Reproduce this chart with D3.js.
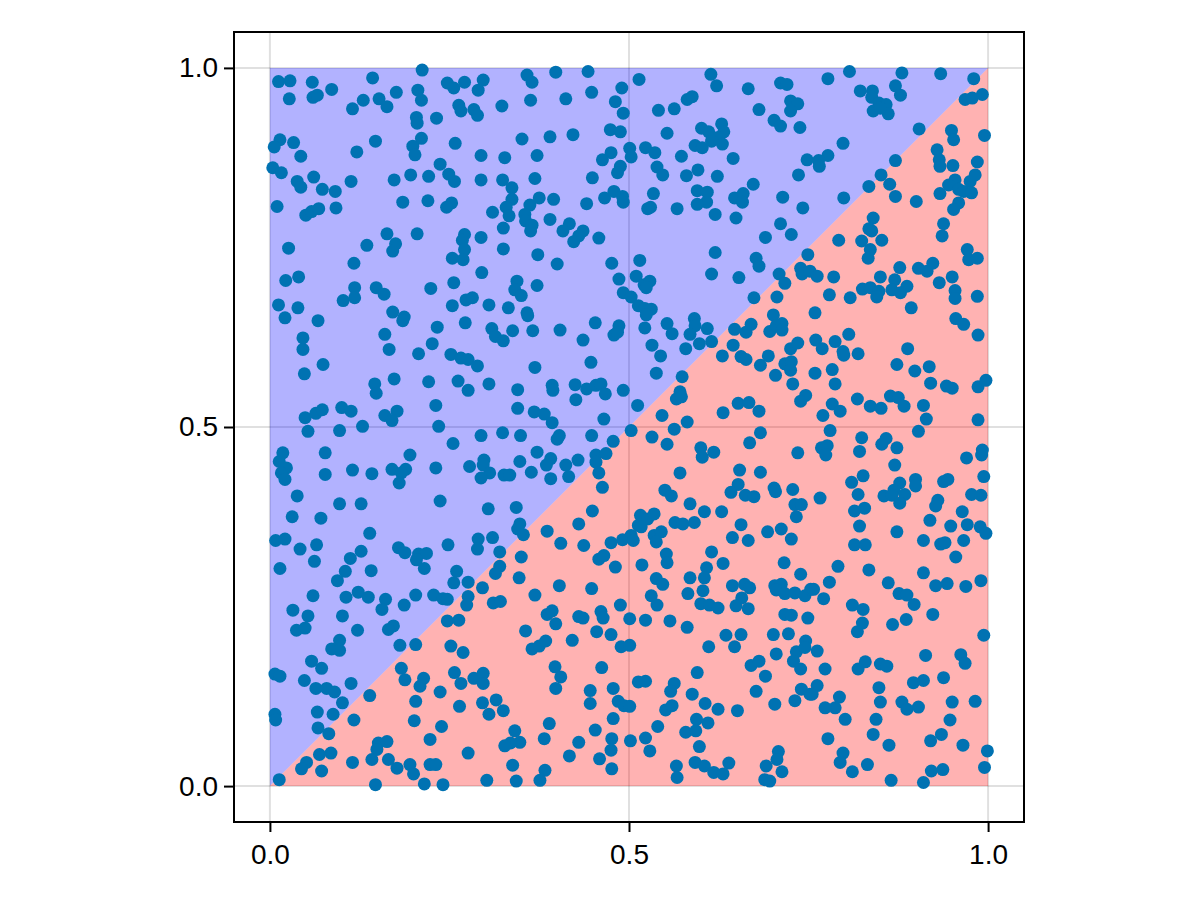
<!DOCTYPE html>
<html><head><meta charset="utf-8">
<script src="https://cdn.jsdelivr.net/npm/d3@7"></script>
<style>body{margin:0;background:#fff}svg{display:block}</style>
</head><body>
<svg id="chart" width="1200" height="900"></svg>
<script>
const xTicks = [0, 0.5, 1];
const yTicks = [0, 0.5, 1];
const upperRegion = [[0,0],[0,1],[1,1]];
const lowerRegion = [[0,0],[1,0],[1,1]];
const points = [
[0.012,0.981],[0.028,0.982],[0.027,0.957],[0.059,0.980],[0.060,0.959],[0.066,0.962],[0.086,0.970],[0.143,0.986],[0.212,0.997],[0.115,0.943],[0.130,0.955],[0.152,0.957],[0.163,0.946],[0.176,0.966],[0.206,0.969],[0.211,0.955],[0.204,0.931],[0.205,0.923],[0.232,0.930],[0.014,0.900],[0.006,0.890],[0.033,0.896],[0.043,0.877],[0.121,0.883],[0.147,0.898],[0.211,0.902],[0.199,0.891],[0.202,0.879],[0.237,0.866],[0.004,0.861],[0.016,0.854],[0.038,0.842],[0.043,0.834],[0.061,0.848],[0.073,0.831],[0.091,0.828],[0.113,0.842],[0.173,0.844],[0.196,0.851],[0.221,0.849],[0.010,0.807],[0.050,0.795],[0.058,0.800],[0.068,0.804],[0.092,0.805],[0.185,0.813],[0.220,0.815],[0.026,0.749],[0.135,0.753],[0.163,0.769],[0.175,0.755],[0.171,0.745],[0.205,0.769],[0.117,0.728],[0.022,0.704],[0.040,0.709],[0.118,0.694],[0.148,0.694],[0.159,0.685],[0.224,0.693],[0.102,0.676],[0.118,0.680],
[0.247,0.979],[0.256,0.972],[0.271,0.980],[0.297,0.983],[0.290,0.969],[0.263,0.948],[0.266,0.940],[0.284,0.942],[0.289,0.934],[0.323,0.947],[0.358,0.990],[0.365,0.980],[0.398,0.994],[0.443,0.995],[0.363,0.955],[0.412,0.957],[0.448,0.966],[0.490,0.972],[0.481,0.953],[0.492,0.937],[0.258,0.895],[0.351,0.901],[0.390,0.904],[0.422,0.907],[0.474,0.914],[0.488,0.911],[0.294,0.878],[0.327,0.875],[0.372,0.878],[0.475,0.882],[0.463,0.872],[0.488,0.863],[0.484,0.854],[0.249,0.852],[0.257,0.842],[0.294,0.844],[0.324,0.844],[0.337,0.833],[0.369,0.846],[0.449,0.847],[0.253,0.812],[0.246,0.806],[0.337,0.817],[0.329,0.806],[0.333,0.794],[0.310,0.799],[0.362,0.809],[0.355,0.796],[0.356,0.787],[0.365,0.781],[0.363,0.773],[0.375,0.819],[0.395,0.817],[0.390,0.789],[0.441,0.811],[0.466,0.819],[0.479,0.828],[0.491,0.821],[0.492,0.813],[0.325,0.777],[0.271,0.768],[0.268,0.760],[0.271,0.747],[0.254,0.735],[0.269,0.733],[0.294,0.764],[0.325,0.748],[0.417,0.783],[0.408,0.773],[0.436,0.773],[0.430,0.766],[0.423,0.758],[0.458,0.763],[0.373,0.740],[0.400,0.727],[0.476,0.728],[0.295,0.715],[0.256,0.701],[0.344,0.703],[0.341,0.691],[0.350,0.683],[0.372,0.697],[0.486,0.706],[0.492,0.687],
[0.514,0.984],[0.614,0.991],[0.622,0.975],[0.666,0.971],[0.711,0.979],[0.720,0.977],[0.581,0.956],[0.588,0.960],[0.541,0.941],[0.563,0.943],[0.681,0.942],[0.725,0.954],[0.735,0.950],[0.725,0.940],[0.702,0.927],[0.711,0.919],[0.738,0.917],[0.553,0.909],[0.601,0.916],[0.611,0.911],[0.629,0.922],[0.632,0.911],[0.624,0.903],[0.615,0.898],[0.630,0.894],[0.592,0.892],[0.602,0.889],[0.501,0.888],[0.503,0.876],[0.523,0.889],[0.536,0.882],[0.573,0.877],[0.645,0.874],[0.748,0.872],[0.539,0.862],[0.547,0.851],[0.580,0.850],[0.596,0.858],[0.623,0.849],[0.673,0.838],[0.736,0.851],[0.534,0.825],[0.526,0.804],[0.530,0.806],[0.567,0.804],[0.595,0.829],[0.609,0.827],[0.608,0.813],[0.595,0.810],[0.647,0.819],[0.659,0.825],[0.658,0.813],[0.620,0.796],[0.649,0.791],[0.714,0.820],[0.742,0.805],[0.711,0.783],[0.726,0.768],[0.690,0.764],[0.515,0.732],[0.620,0.743],[0.677,0.735],[0.681,0.724],[0.749,0.740],[0.739,0.721],[0.741,0.713],[0.752,0.717],[0.510,0.710],[0.521,0.698],[0.529,0.703],[0.615,0.713],[0.653,0.708],[0.709,0.713],[0.717,0.700],[0.503,0.681],[0.524,0.694],[0.674,0.680],[0.706,0.681],
[0.777,0.985],[0.807,0.995],[0.880,0.993],[0.934,0.992],[0.980,0.985],[0.822,0.968],[0.839,0.968],[0.838,0.959],[0.871,0.975],[0.878,0.962],[0.848,0.951],[0.858,0.949],[0.840,0.940],[0.861,0.936],[0.850,0.944],[0.968,0.956],[0.978,0.958],[0.992,0.963],[0.904,0.915],[0.949,0.913],[0.952,0.900],[0.995,0.906],[0.798,0.895],[0.777,0.878],[0.764,0.871],[0.765,0.863],[0.871,0.871],[0.929,0.886],[0.932,0.872],[0.933,0.863],[0.951,0.864],[0.985,0.869],[0.851,0.851],[0.863,0.838],[0.834,0.835],[0.954,0.844],[0.945,0.837],[0.959,0.831],[0.966,0.828],[0.975,0.842],[0.982,0.851],[0.977,0.826],[0.933,0.825],[0.871,0.821],[0.900,0.814],[0.799,0.819],[0.959,0.812],[0.952,0.803],[0.840,0.791],[0.834,0.776],[0.838,0.773],[0.852,0.760],[0.824,0.759],[0.836,0.747],[0.833,0.735],[0.792,0.760],[0.938,0.783],[0.936,0.766],[0.971,0.747],[0.973,0.733],[0.985,0.735],[0.762,0.710],[0.785,0.709],[0.877,0.722],[0.903,0.721],[0.915,0.717],[0.923,0.728],[0.850,0.709],[0.870,0.705],[0.887,0.696],[0.878,0.687],[0.825,0.692],[0.836,0.694],[0.848,0.689],[0.845,0.681],[0.866,0.691],[0.932,0.701],[0.950,0.709],[0.954,0.690],[0.954,0.679],[0.779,0.684],[0.808,0.680],[0.985,0.682],
[0.012,0.670],[0.039,0.666],[0.021,0.652],[0.067,0.648],[0.171,0.660],[0.187,0.653],[0.185,0.648],[0.233,0.639],[0.046,0.624],[0.046,0.608],[0.160,0.629],[0.166,0.608],[0.226,0.616],[0.207,0.602],[0.074,0.587],[0.048,0.574],[0.146,0.560],[0.148,0.547],[0.173,0.567],[0.221,0.563],[0.231,0.530],[0.049,0.513],[0.064,0.519],[0.073,0.524],[0.100,0.527],[0.113,0.522],[0.160,0.516],[0.177,0.522],[0.170,0.509],[0.053,0.494],[0.097,0.495],[0.129,0.501],[0.235,0.501],[0.018,0.464],[0.013,0.452],[0.023,0.443],[0.016,0.436],[0.021,0.427],[0.077,0.464],[0.077,0.434],[0.115,0.440],[0.142,0.435],[0.170,0.441],[0.189,0.441],[0.183,0.436],[0.180,0.422],[0.195,0.461],[0.231,0.443],[0.038,0.404],[0.097,0.393],[0.127,0.393],[0.237,0.397],[0.031,0.375],[0.071,0.373],[0.139,0.352],[0.008,0.342],[0.021,0.344],[0.042,0.330],[0.065,0.336],
[0.254,0.669],[0.273,0.677],[0.282,0.680],[0.305,0.670],[0.332,0.666],[0.358,0.659],[0.359,0.655],[0.272,0.645],[0.309,0.637],[0.314,0.626],[0.325,0.620],[0.338,0.634],[0.366,0.634],[0.404,0.635],[0.453,0.645],[0.436,0.621],[0.486,0.641],[0.479,0.628],[0.484,0.632],[0.252,0.601],[0.266,0.596],[0.276,0.594],[0.289,0.585],[0.369,0.583],[0.447,0.590],[0.262,0.564],[0.276,0.551],[0.305,0.560],[0.345,0.552],[0.393,0.558],[0.394,0.551],[0.425,0.559],[0.441,0.553],[0.454,0.558],[0.461,0.560],[0.467,0.546],[0.492,0.551],[0.426,0.538],[0.345,0.526],[0.368,0.521],[0.382,0.518],[0.393,0.506],[0.465,0.511],[0.255,0.477],[0.294,0.488],[0.324,0.492],[0.349,0.488],[0.403,0.488],[0.400,0.483],[0.448,0.488],[0.478,0.480],[0.372,0.465],[0.298,0.454],[0.297,0.447],[0.306,0.436],[0.294,0.429],[0.278,0.445],[0.348,0.452],[0.391,0.456],[0.385,0.447],[0.412,0.447],[0.429,0.454],[0.454,0.461],[0.454,0.451],[0.468,0.463],[0.326,0.433],[0.334,0.433],[0.364,0.437],[0.391,0.428],[0.416,0.431],[0.458,0.436],[0.463,0.416],[0.304,0.386],[0.343,0.388],[0.449,0.383],[0.348,0.365],[0.345,0.358],[0.353,0.350],[0.386,0.355],[0.430,0.365],[0.405,0.338],[0.437,0.335],[0.290,0.344],[0.310,0.346],[0.248,0.336],[0.475,0.339],[0.491,0.343],
[0.513,0.669],[0.522,0.665],[0.531,0.664],[0.524,0.656],[0.522,0.638],[0.553,0.644],[0.560,0.630],[0.591,0.651],[0.592,0.641],[0.585,0.629],[0.609,0.637],[0.598,0.616],[0.615,0.619],[0.579,0.609],[0.532,0.614],[0.544,0.599],[0.538,0.575],[0.574,0.570],[0.571,0.549],[0.566,0.539],[0.573,0.542],[0.512,0.530],[0.546,0.516],[0.503,0.495],[0.563,0.497],[0.581,0.507],[0.532,0.486],[0.553,0.476],[0.600,0.471],[0.602,0.458],[0.618,0.465],[0.571,0.436],[0.550,0.412],[0.559,0.404],[0.585,0.393],[0.516,0.377],[0.526,0.372],[0.535,0.379],[0.513,0.363],[0.517,0.361],[0.564,0.367],[0.575,0.365],[0.591,0.367],[0.605,0.382],[0.629,0.382],[0.503,0.349],[0.506,0.342],[0.535,0.349],[0.545,0.354],[0.538,0.340],[0.631,0.520],[0.647,0.636],[0.663,0.632],[0.670,0.643],[0.645,0.614],[0.630,0.599],[0.656,0.598],[0.663,0.594],[0.683,0.586],[0.694,0.599],[0.701,0.656],[0.696,0.633],[0.705,0.641],[0.713,0.644],[0.713,0.635],[0.704,0.572],[0.725,0.609],[0.735,0.617],[0.717,0.588],[0.726,0.591],[0.725,0.579],[0.728,0.560],[0.746,0.544],[0.739,0.536],[0.652,0.533],[0.667,0.534],[0.681,0.522],[0.683,0.492],[0.668,0.478],[0.735,0.464],[0.654,0.440],[0.683,0.437],[0.652,0.420],[0.642,0.409],[0.662,0.405],[0.674,0.403],[0.702,0.415],[0.704,0.410],[0.728,0.413],[0.731,0.392],[0.740,0.392],[0.733,0.375],[0.656,0.364],[0.693,0.354],[0.712,0.358],[0.644,0.346],[0.666,0.342],[0.726,0.344],
[0.759,0.659],[0.893,0.666],[0.955,0.651],[0.966,0.643],[0.986,0.628],[0.806,0.629],[0.760,0.621],[0.769,0.609],[0.787,0.619],[0.798,0.605],[0.799,0.600],[0.819,0.602],[0.888,0.609],[0.873,0.587],[0.898,0.578],[0.918,0.584],[0.920,0.561],[0.759,0.575],[0.783,0.580],[0.787,0.560],[0.942,0.557],[0.950,0.554],[0.986,0.556],[0.997,0.565],[0.818,0.539],[0.836,0.529],[0.851,0.526],[0.864,0.543],[0.875,0.541],[0.883,0.529],[0.910,0.530],[0.914,0.511],[0.903,0.494],[0.783,0.532],[0.794,0.522],[0.770,0.516],[0.780,0.495],[0.986,0.510],[0.824,0.485],[0.821,0.466],[0.858,0.484],[0.852,0.476],[0.873,0.471],[0.768,0.471],[0.776,0.474],[0.774,0.461],[0.870,0.447],[0.970,0.457],[0.992,0.468],[0.991,0.461],[0.826,0.432],[0.810,0.423],[0.819,0.406],[0.877,0.422],[0.869,0.412],[0.855,0.404],[0.866,0.405],[0.884,0.406],[0.877,0.394],[0.899,0.427],[0.899,0.418],[0.938,0.424],[0.944,0.427],[0.994,0.431],[0.766,0.401],[0.977,0.406],[0.990,0.405],[0.814,0.383],[0.828,0.387],[0.930,0.398],[0.927,0.390],[0.964,0.382],[0.919,0.370],[0.948,0.362],[0.971,0.364],[0.989,0.361],[0.997,0.352],[0.821,0.362],[0.873,0.354],[0.910,0.342],[0.934,0.337],[0.940,0.339],[0.966,0.342],[0.814,0.336],[0.829,0.336],
[0.014,0.303],[0.062,0.313],[0.112,0.317],[0.127,0.327],[0.105,0.299],[0.094,0.286],[0.141,0.300],[0.179,0.332],[0.188,0.325],[0.207,0.323],[0.218,0.324],[0.204,0.315],[0.215,0.303],[0.060,0.265],[0.106,0.263],[0.123,0.270],[0.137,0.263],[0.161,0.260],[0.156,0.246],[0.187,0.252],[0.203,0.266],[0.228,0.266],[0.241,0.261],[0.032,0.245],[0.053,0.237],[0.101,0.237],[0.037,0.217],[0.049,0.220],[0.122,0.217],[0.172,0.223],[0.165,0.218],[0.097,0.203],[0.086,0.191],[0.097,0.189],[0.181,0.196],[0.203,0.197],[0.058,0.174],[0.072,0.164],[0.007,0.156],[0.014,0.153],[0.048,0.147],[0.064,0.136],[0.079,0.136],[0.090,0.131],[0.113,0.143],[0.183,0.164],[0.188,0.148],[0.214,0.150],[0.209,0.139],[0.237,0.131],[0.101,0.116],[0.139,0.126],[0.203,0.118],[0.007,0.100],[0.008,0.092],[0.066,0.103],[0.088,0.100],[0.117,0.092],[0.201,0.091],[0.239,0.083],[0.067,0.081],[0.082,0.073],[0.223,0.065],[0.151,0.060],[0.163,0.062],[0.149,0.051],[0.142,0.037],[0.165,0.037],[0.177,0.025],[0.069,0.044],[0.085,0.046],[0.051,0.033],[0.044,0.024],[0.072,0.021],[0.115,0.033],[0.195,0.030],[0.200,0.017],[0.223,0.030],[0.231,0.030],[0.013,0.009],[0.147,0.002],[0.215,0.003],[0.241,0.002],
[0.289,0.330],[0.320,0.326],[0.350,0.319],[0.458,0.316],[0.465,0.321],[0.481,0.305],[0.260,0.299],[0.256,0.283],[0.276,0.284],[0.320,0.306],[0.314,0.296],[0.347,0.290],[0.296,0.276],[0.247,0.260],[0.276,0.264],[0.274,0.252],[0.311,0.255],[0.321,0.257],[0.369,0.266],[0.403,0.279],[0.448,0.275],[0.386,0.239],[0.393,0.244],[0.398,0.226],[0.430,0.236],[0.436,0.234],[0.461,0.243],[0.464,0.234],[0.488,0.252],[0.247,0.230],[0.263,0.231],[0.356,0.216],[0.365,0.191],[0.375,0.195],[0.384,0.202],[0.421,0.203],[0.455,0.215],[0.475,0.211],[0.489,0.194],[0.252,0.195],[0.269,0.186],[0.257,0.158],[0.266,0.143],[0.284,0.150],[0.297,0.157],[0.297,0.143],[0.397,0.166],[0.405,0.152],[0.398,0.136],[0.462,0.165],[0.446,0.133],[0.478,0.136],[0.264,0.111],[0.296,0.116],[0.305,0.100],[0.315,0.120],[0.325,0.105],[0.446,0.115],[0.485,0.118],[0.493,0.112],[0.478,0.094],[0.389,0.087],[0.341,0.077],[0.348,0.061],[0.335,0.060],[0.327,0.056],[0.382,0.066],[0.453,0.078],[0.430,0.061],[0.476,0.066],[0.475,0.050],[0.276,0.046],[0.417,0.042],[0.459,0.038],[0.476,0.024],[0.338,0.029],[0.383,0.022],[0.376,0.008],[0.302,0.008],[0.343,0.007],
[0.552,0.323],[0.553,0.311],[0.615,0.326],[0.518,0.308],[0.631,0.310],[0.716,0.311],[0.739,0.295],[0.538,0.289],[0.547,0.281],[0.585,0.290],[0.608,0.304],[0.605,0.290],[0.531,0.265],[0.539,0.252],[0.582,0.268],[0.603,0.272],[0.600,0.254],[0.612,0.252],[0.624,0.248],[0.644,0.279],[0.661,0.281],[0.668,0.276],[0.657,0.262],[0.649,0.251],[0.666,0.247],[0.703,0.279],[0.712,0.281],[0.705,0.273],[0.717,0.268],[0.731,0.269],[0.745,0.265],[0.753,0.274],[0.501,0.233],[0.523,0.231],[0.557,0.230],[0.581,0.221],[0.717,0.239],[0.726,0.238],[0.749,0.234],[0.501,0.196],[0.611,0.194],[0.635,0.210],[0.656,0.211],[0.647,0.194],[0.701,0.211],[0.722,0.212],[0.746,0.202],[0.733,0.187],[0.745,0.193],[0.729,0.174],[0.739,0.163],[0.705,0.184],[0.670,0.168],[0.681,0.174],[0.690,0.153],[0.595,0.158],[0.513,0.145],[0.523,0.146],[0.563,0.143],[0.558,0.132],[0.588,0.128],[0.677,0.132],[0.740,0.135],[0.752,0.128],[0.501,0.111],[0.606,0.115],[0.624,0.107],[0.651,0.105],[0.703,0.114],[0.731,0.119],[0.551,0.106],[0.560,0.112],[0.540,0.083],[0.594,0.093],[0.610,0.088],[0.579,0.075],[0.593,0.077],[0.502,0.063],[0.523,0.067],[0.529,0.049],[0.598,0.055],[0.566,0.028],[0.567,0.012],[0.592,0.033],[0.605,0.028],[0.618,0.019],[0.631,0.017],[0.639,0.032],[0.708,0.048],[0.706,0.037],[0.691,0.028],[0.713,0.020],[0.689,0.009],[0.696,0.007],
[0.955,0.319],[0.791,0.306],[0.834,0.301],[0.910,0.297],[0.757,0.274],[0.779,0.284],[0.771,0.261],[0.861,0.283],[0.876,0.268],[0.887,0.266],[0.897,0.253],[0.927,0.279],[0.943,0.282],[0.969,0.278],[0.990,0.286],[0.811,0.252],[0.826,0.246],[0.825,0.227],[0.818,0.215],[0.867,0.225],[0.886,0.232],[0.923,0.239],[0.994,0.210],[0.762,0.188],[0.773,0.163],[0.829,0.173],[0.819,0.163],[0.850,0.170],[0.859,0.167],[0.913,0.182],[0.962,0.183],[0.968,0.171],[0.938,0.151],[0.896,0.144],[0.910,0.147],[0.762,0.140],[0.755,0.128],[0.848,0.137],[0.793,0.124],[0.787,0.109],[0.773,0.109],[0.801,0.093],[0.850,0.117],[0.880,0.117],[0.887,0.107],[0.903,0.110],[0.950,0.117],[0.982,0.118],[0.844,0.093],[0.947,0.092],[0.840,0.072],[0.777,0.066],[0.862,0.057],[0.920,0.063],[0.935,0.072],[0.965,0.057],[0.999,0.049],[0.798,0.046],[0.794,0.033],[0.811,0.020],[0.832,0.030],[0.865,0.008],[0.910,0.005],[0.921,0.021],[0.937,0.023],[0.995,0.026]
];

const svg = d3.select('#chart');
svg.append('rect').attr('width',1200).attr('height',900).attr('fill','#fff');

const plotLeft = 234, plotRight = 1024, plotTop = 32, plotBottom = 822;
const x = d3.scaleLinear().domain([-0.05, 1.05]).range([plotLeft, plotRight]);
const y = d3.scaleLinear().domain([-0.05, 1.05]).range([plotBottom, plotTop]);
const fontFamily = "'Liberation Sans', Arial, Helvetica, sans-serif";

// grid
const grid = svg.append('g');
grid.selectAll('line.gx').data(xTicks).join('line').attr('class','gx')
  .attr('x1', d => x(d)).attr('x2', d => x(d)).attr('y1', plotTop).attr('y2', plotBottom)
  .attr('stroke', 'rgba(0,0,0,0.12)').attr('stroke-width', 2);
grid.selectAll('line.gy').data(yTicks).join('line').attr('class','gy')
  .attr('y1', d => y(d)).attr('y2', d => y(d)).attr('x1', plotLeft).attr('x2', plotRight)
  .attr('stroke', 'rgba(0,0,0,0.12)').attr('stroke-width', 2);

// regions
const regionLine = d3.line().x(d => x(d[0])).y(d => y(d[1]));
svg.append('path').attr('d', regionLine(upperRegion) + 'Z').attr('fill', 'rgba(0,0,255,0.3)');
svg.append('path').attr('d', regionLine(lowerRegion) + 'Z').attr('fill', 'rgba(255,0,0,0.3)');

// points
svg.append('g').selectAll('circle').data(points).join('circle')
  .attr('cx', d => x(d[0])).attr('cy', d => y(d[1])).attr('r', 6.5)
  .attr('fill', 'rgb(0,114,178)');

// frame
svg.append('rect').attr('x', plotLeft).attr('y', plotTop)
  .attr('width', plotRight - plotLeft).attr('height', plotBottom - plotTop)
  .attr('fill', 'none').attr('stroke', '#000').attr('stroke-width', 2);

// axes
const fmt = d3.format('.1f');
const xAxis = svg.append('g').attr('transform', `translate(0,${plotBottom})`)
  .call(d3.axisBottom(x).tickValues(xTicks).tickFormat(fmt).tickSize(10).tickPadding(12));
const yAxis = svg.append('g').attr('transform', `translate(${plotLeft},0)`)
  .call(d3.axisLeft(y).tickValues(yTicks).tickFormat(fmt).tickSize(10).tickPadding(6));
[xAxis, yAxis].forEach(a => {
  a.select('.domain').remove();
  a.selectAll('.tick line').attr('stroke', '#000').attr('stroke-width', 2);
  a.selectAll('.tick text').attr('fill', '#000').attr('font-size', 28).attr('font-family', fontFamily);
});
</script>
</body></html>
